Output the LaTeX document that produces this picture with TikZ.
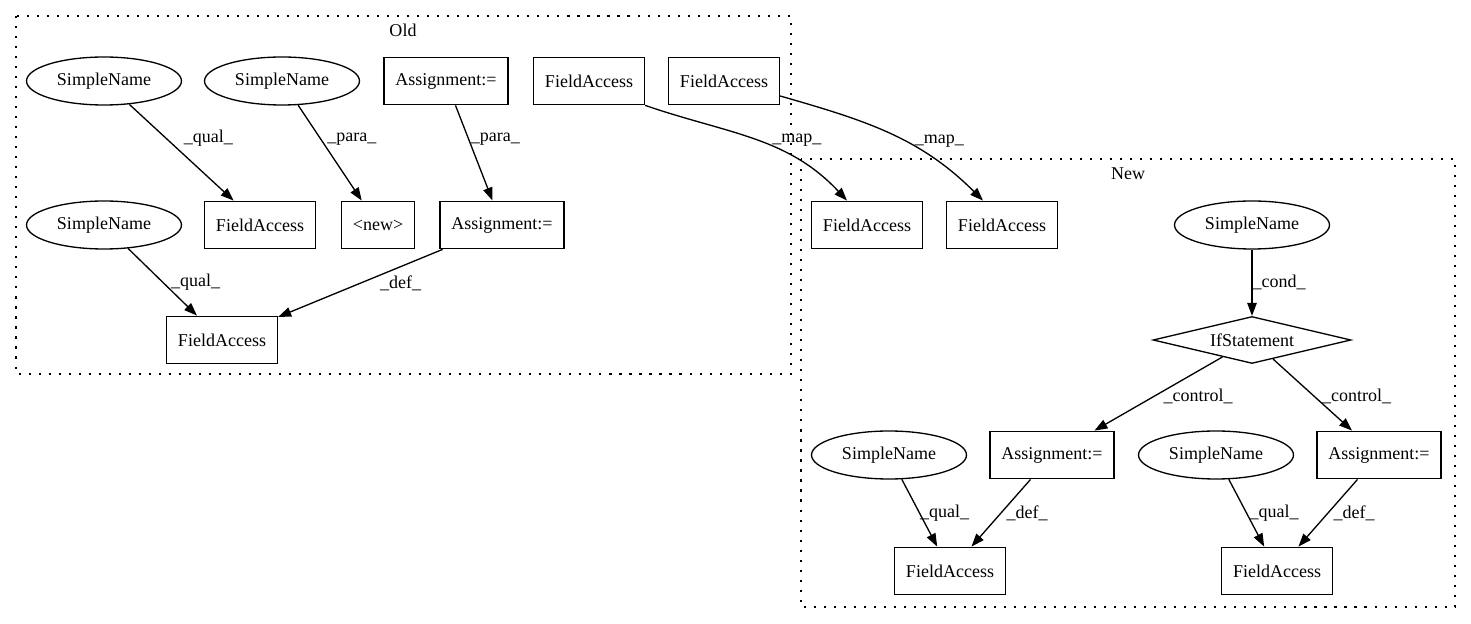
\documentclass[tikz,border=0pt]{standalone}
\usepackage{fontspec}
\setmainfont{Liberation Serif}
\usetikzlibrary{shapes.geometric, positioning, arrows.meta}
\tikzset{
>={Triangle[length=0.26cm, width=0.19cm]}, % filled arrow heads
every node/.style={font=\fontsize{10.25}{12}\selectfont}, % one text size everywhere
astbox/.style={draw, rectangle, line width=0.75pt, minimum height=0.95cm, inner xsep=0.23cm, inner ysep=0pt},
astoval/.style={draw, ellipse, line width=0.75pt, minimum width=3.1cm, minimum height=0.96cm, inner sep=0pt},
astcond/.style={draw, diamond, line width=0.75pt, aspect=4.2, minimum width=3.96cm, minimum height=0.94cm, inner sep=0pt},
lbl/.style={inner sep=0pt, anchor=west}, % edge labels sit right of the line
cluster/.style={line width=0.75pt, dash pattern=on 1.2pt off 4.5pt},
flow/.style={line width=0.75pt, every edge/.append style={->}}, % arrows only on the edges
}
\begin{document}
\begin{tikzpicture}[x=0.02cm, y=-0.02cm]
                \useasboundingbox (0,0) rectangle (1471,624);
                % the two clusters
                \draw[cluster] (16,16) rectangle (791,374);
                \node (oldtitle) at (403,30) {Old};
                \draw[cluster] (801,159) rectangle (1455,607);
                \node (newtitle) at (1128,174) {New};
                % Old
                \node[astoval] (snqa) at (104,81) {SimpleName};
                \node[astoval] (snpa) at (282,81) {SimpleName};
                \node[astbox] (asgo) at (446,81) {Assignment:=};
                \node[astbox] (fao1) at (589,81) {FieldAccess};
                \node[astbox] (fao2) at (724,81) {FieldAccess};
                \node[astoval] (snqb) at (104,225) {SimpleName};
                \node[astbox] (faqa) at (260,225) {FieldAccess};
                \node[astbox] (nw) at (378,225) {\textless new\textgreater};
                \node[astbox] (asgd) at (502,225) {Assignment:=};
                \node[astbox] (fadef) at (222,340) {FieldAccess};
                % New
                \node[astbox] (fan1) at (867,225) {FieldAccess};
                \node[astbox] (fan2) at (1002,225) {FieldAccess};
                \node[astoval] (sncond) at (1252,225) {SimpleName};
                \node[astcond] (ifst) at (1252,340) {IfStatement};
                \node[astoval] (snl) at (889,455) {SimpleName};
                \node[astbox] (asgl) at (1052,455) {Assignment:=};
                \node[astoval] (snr) at (1216,455) {SimpleName};
                \node[astbox] (asgr) at (1379,455) {Assignment:=};
                \node[astbox] (fal) at (950,571) {FieldAccess};
                \node[astbox] (far) at (1277,571) {FieldAccess};
                \draw[flow]
                    (snqa) edge node[lbl, pos=0.354, xshift=0.34cm] {\_qual\_} (faqa)
                    (snpa) edge node[lbl, pos=0.357, xshift=0.12cm] {\_para\_} (nw)
                    (asgo) edge node[lbl, pos=0.354, xshift=0.03cm] {\_para\_} (asgd)
                    (snqb) edge node[lbl, pos=0.508, xshift=0.15cm] {\_qual\_} (fadef)
                    (asgd) edge node[lbl, pos=0.5, xshift=0.38cm] {\_def\_} (fadef)
                    (fao1.south east) edge[out=-19, in=133] node[lbl, pos=0.5, xshift=0.34cm] {\_map\_} ([xshift=-0.4cm]fan1.north)
                    ([yshift=-0.3cm]fao2.east) edge[out=-16, in=135] node[lbl, pos=0.58, xshift=0.18cm] {\_map\_} ([xshift=-0.38cm]fan2.north)
                    (sncond) edge node[lbl, pos=0.5] {\_cond\_} (ifst)
                    (ifst) edge node[lbl, pos=0.536, xshift=0.18cm] {\_control\_} (asgl)
                    (ifst) edge node[lbl, pos=0.523, xshift=0.14cm] {\_control\_} (asgr)
                    (snl) edge node[lbl, pos=0.5] {\_qual\_} (fal)
                    (asgl) edge node[lbl, pos=0.5, xshift=0.1cm] {\_def\_} (fal)
                    (snr) edge node[lbl, pos=0.5, xshift=0.05cm] {\_qual\_} (far)
                    (asgr) edge node[lbl, pos=0.5, xshift=0.1cm] {\_def\_} (far)
                    ;
            \end{tikzpicture}
\end{document}
